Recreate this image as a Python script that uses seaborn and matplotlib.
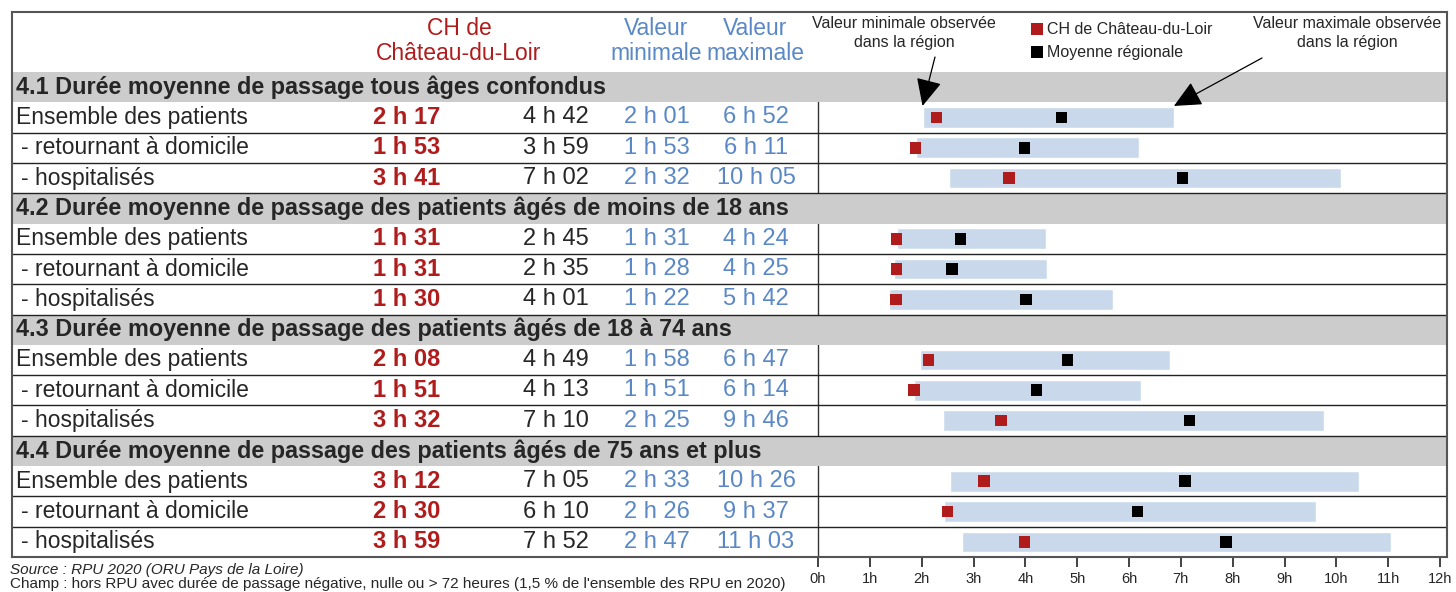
import matplotlib
matplotlib.use("Agg")
import matplotlib.pyplot as plt
import matplotlib.transforms as mtransforms
import pandas as pd
import seaborn as sns

sections = [
    "4.1 Durée moyenne de passage tous âges confondus",
    "4.2 Durée moyenne de passage des patients âgés de moins de 18 ans",
    "4.3 Durée moyenne de passage des patients âgés de 18 à 74 ans",
    "4.4 Durée moyenne de passage des patients âgés de 75 ans et plus",
]
row_labels = ["Ensemble des patients", "- retournant à domicile", "- hospitalisés"]

ch_values = ["2 h 17", "1 h 53", "3 h 41", "1 h 31", "1 h 31", "1 h 30",
             "2 h 08", "1 h 51", "3 h 32", "3 h 12", "2 h 30", "3 h 59"]
moy_values = ["4 h 42", "3 h 59", "7 h 02", "2 h 45", "2 h 35", "4 h 01",
              "4 h 49", "4 h 13", "7 h 10", "7 h 05", "6 h 10", "7 h 52"]
min_values = ["2 h 01", "1 h 53", "2 h 32", "1 h 31", "1 h 28", "1 h 22",
              "1 h 58", "1 h 51", "2 h 25", "2 h 33", "2 h 26", "2 h 47"]
max_values = ["6 h 52", "6 h 11", "10 h 05", "4 h 24", "4 h 25", "5 h 42",
              "6 h 47", "6 h 14", "9 h 46", "10 h 26", "9 h 37", "11 h 03"]
hour_ticks = list(range(13))

CH_NAME = "CH de Château-du-Loir"
MOY_NAME = "Moyenne régionale"
RED = "#b01c1c"
BLUE_TXT = "#5a88c6"
BAR_COL = "#c9d9eb"
GREY = "#cccccc"


def to_hours(s):
    h, _, m = s.split()
    return int(h) + int(m) / 60


# one line per data row, y = row position in the table (section header rows in between)
df = pd.DataFrame({
    "label": [row_labels[k % 3] for k in range(12)],
    "y": [4 * (k // 3) + 1 + k % 3 + 0.5 for k in range(12)],
    "ch": ch_values, "moy": moy_values, "vmin": min_values, "vmax": max_values,
})
for c in ["ch", "moy", "vmin", "vmax"]:
    df[c + "_h"] = df[c].map(to_hours)

long = pd.concat([
    pd.DataFrame({"heures": df["ch_h"], "y": df["y"], "serie": CH_NAME}),
    pd.DataFrame({"heures": df["moy_h"], "y": df["y"], "serie": MOY_NAME}),
])

# ---- layout (pixels of the 1456x592 picture) ----
W, H = 1456, 592
box_l, box_r, box_t, box_b = 12, 1447, 12, 557
x0h, x12h = 818, 1440
hour_px = (x12h - x0h) / 12
row_px = (box_b - 72) / 16
head_rows = (72 - box_t) / row_px

sns.set_style("white")
plt.rcParams["font.family"] = ["Liberation Sans", "DejaVu Sans"]

fig = plt.figure(figsize=(W / 100, H / 100), dpi=100)
ax = fig.add_axes([box_l / W, (H - box_b) / H, (box_r - box_l) / W, (box_b - box_t) / H])
ax.set_xlim(-(x0h - box_l) / hour_px, (box_r - x0h) / hour_px)

# grey section bands and table rules
for s in range(4):
    ax.axhspan(4 * s, 4 * s + 1, color=GREY, lw=0, zorder=1)
    for b in (4 * s + 2, 4 * s + 3, 4 * s + 4):
        if b < 16:
            ax.axhline(b, color="#222222", lw=1, zorder=1.5)
ax.vlines(0, 0, 16, color="#333333", lw=1, zorder=0.5)

# range bars (min -> max) and markers
ax.barh(df["y"], df["vmax_h"] - df["vmin_h"], left=df["vmin_h"], height=0.68,
        color=BAR_COL, zorder=2)
sns.scatterplot(data=long, x="heures", y="y", hue="serie",
                palette={CH_NAME: RED, MOY_NAME: "black"}, marker="s", s=70,
                linewidth=0, ax=ax, zorder=4)

ax.set_ylim(16, -head_rows)
ax.set_xlabel("")
ax.set_ylabel("")
ax.set_yticks([])
ax.set_xticks(hour_ticks)
ax.set_xticklabels([f"{h}h" for h in hour_ticks])
ax.tick_params(axis="x", bottom=True, direction="out", length=7, width=1.2,
               labelsize=10.5, pad=4, color="#222222")
for sp in ax.spines.values():
    sp.set_color("#555555")
    sp.set_linewidth(1.5)

handles, labels = ax.get_legend_handles_labels()
ax.legend(handles, labels, loc="upper left", bbox_to_anchor=(1022 / W, 1 - 16 / H),
          bbox_transform=fig.transFigure, frameon=False, fontsize=11.5,
          handletextpad=0.05, labelspacing=0.5, borderaxespad=0, handlelength=1.1)

# ---- table text ----
tr = mtransforms.blended_transform_factory(fig.transFigure, ax.transData)
FS = 16.5
FV = 17

for s, title in enumerate(sections):
    ax.text(16 / W, 4 * s + 0.5, title, transform=tr, fontsize=16.8, fontweight="bold",
            va="center", ha="left", zorder=5)

for _, r in df.iterrows():
    xl = 16 if r["label"].startswith("Ensemble") else 21
    ax.text(xl / W, r["y"], r["label"], transform=tr, fontsize=FS, va="center", ha="left")
    ax.text(407 / W, r["y"], r["ch"], transform=tr, fontsize=FV, va="center", ha="center",
            color=RED, fontweight="bold")
    ax.text(556 / W, r["y"], r["moy"], transform=tr, fontsize=FV, va="center", ha="center")
    ax.text(657 / W, r["y"], r["vmin"], transform=tr, fontsize=FV, va="center", ha="center",
            color=BLUE_TXT)
    ax.text(756 / W, r["y"], r["vmax"], transform=tr, fontsize=FV, va="center", ha="center",
            color=BLUE_TXT)

# column headers
fig.text(459 / W, 1 - 41 / H, "CH de\nChâteau-du-Loir", ha="center", va="center",
         fontsize=16.5, color=RED, linespacing=1.1)
fig.text(656 / W, 1 - 41 / H, "Valeur\nminimale", ha="center", va="center",
         fontsize=16.5, color=BLUE_TXT, linespacing=1.1)
fig.text(755 / W, 1 - 41 / H, "Valeur\nmaximale", ha="center", va="center",
         fontsize=16.5, color=BLUE_TXT, linespacing=1.1)

# annotations on the first bar
fig.text(904 / W, 1 - 33 / H, "Valeur minimale observée\ndans la région", ha="center",
         va="center", fontsize=11.5, linespacing=1.25)
fig.text(1347 / W, 1 - 33 / H, "Valeur maximale observée\ndans la région", ha="center",
         va="center", fontsize=11.5, linespacing=1.25)
arrow = dict(arrowstyle="-|>,head_length=0.85,head_width=0.4", color="black", lw=0.9,
             mutation_scale=20, shrinkA=0, shrinkB=0)
first = df.iloc[0]
ax.annotate("", xy=(first["vmin_h"], first["y"] - 0.38), xytext=(935 / W, 1 - 57 / H),
            textcoords="figure fraction", arrowprops=arrow, annotation_clip=False)
ax.annotate("", xy=(first["vmax_h"], first["y"] - 0.38), xytext=(1262 / W, 1 - 58 / H),
            textcoords="figure fraction", arrowprops=arrow, annotation_clip=False)

# footer
fig.text(10 / W, 1 - 570 / H, "Source : RPU 2020 (ORU Pays de la Loire)", style="italic",
         fontsize=11, va="center")
fig.text(10 / W, 1 - 588 / H,
         "Champ : hors RPU avec durée de passage négative, nulle ou > 72 heures "
         "(1,5 % de l'ensemble des RPU en 2020)", fontsize=11, va="baseline")

fig.savefig("out.png", dpi=100)
